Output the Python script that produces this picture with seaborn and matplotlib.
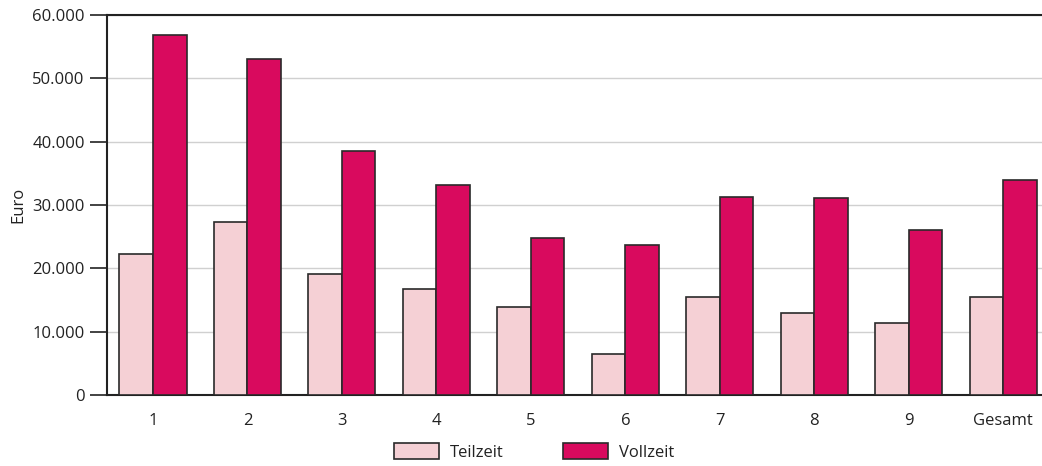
import matplotlib
matplotlib.use("Agg")
import matplotlib.pyplot as plt
import matplotlib.ticker as mticker
import seaborn as sns
import pandas as pd

categories = ["1", "2", "3", "4", "5", "6", "7", "8", "9", "Gesamt"]
teilzeit = [22300, 27300, 19100, 16800, 13900, 6500, 15500, 12900, 11400, 15500]
vollzeit = [56800, 53100, 38600, 33200, 24800, 23700, 31300, 31100, 26100, 33900]
series_names = ["Teilzeit", "Vollzeit"]
y_ticks = [0, 10000, 20000, 30000, 40000, 50000, 60000]

df = pd.DataFrame({
    "Kategorie": categories * 2,
    "Euro": teilzeit + vollzeit,
    "Art": [series_names[0]] * len(categories) + [series_names[1]] * len(categories),
})

sns.set_theme(style="white")
plt.rcParams["font.family"] = ["Open Sans", "DejaVu Sans"]

fig = plt.figure(figsize=(10.42, 4.66), dpi=100)
ax = fig.add_axes([107 / 1042, 1 - 395 / 466, (1042 - 107) / 1042, (395 - 15) / 466])

sns.barplot(
    data=df, x="Kategorie", y="Euro", hue="Art",
    palette={"Teilzeit": "#F5D0D5", "Vollzeit": "#D90A5E"},
    saturation=1,
    edgecolor="#2a2a2a", linewidth=1.2, width=0.71, gap=0,
    ax=ax, zorder=3,
)

ax.set_ylim(0, 60000)
ax.set_xlim(-0.487, 9.41)
ax.set_yticks(y_ticks)
ax.yaxis.set_major_formatter(mticker.FuncFormatter(lambda v, p: f"{int(v):,}".replace(",", ".")))
ax.grid(axis="y", color="#d0d0d0", linewidth=1.0, zorder=0)
ax.set_axisbelow(True)

for s in ["left", "bottom", "top"]:
    ax.spines[s].set_visible(True)
    ax.spines[s].set_color("#222222")
    ax.spines[s].set_linewidth(1.5)
ax.spines["right"].set_visible(False)

ax.tick_params(axis="y", which="major", left=True, length=12, width=1.2, color="#222222",
               labelsize=12, labelcolor="#222222", pad=4)
ax.tick_params(axis="x", bottom=False, labelsize=12, labelcolor="#222222", pad=7)
ax.set_xlabel("")
ax.set_ylabel("Euro", fontsize=12, color="#222222", labelpad=4)

handles, labels = ax.get_legend_handles_labels()
ax.get_legend().remove()
leg = fig.legend(handles, labels, loc="center", bbox_to_anchor=(534 / 1042, 1 - 452 / 466),
                 ncol=2, frameon=False, fontsize=12, handlelength=2.7, handleheight=1.1,
                 columnspacing=3.6, handletextpad=0.65, labelcolor="#222222")
for h in leg.legend_handles:
    h.set_edgecolor("#2a2a2a")
    h.set_linewidth(1.2)

fig.savefig("out.png", dpi=100)
